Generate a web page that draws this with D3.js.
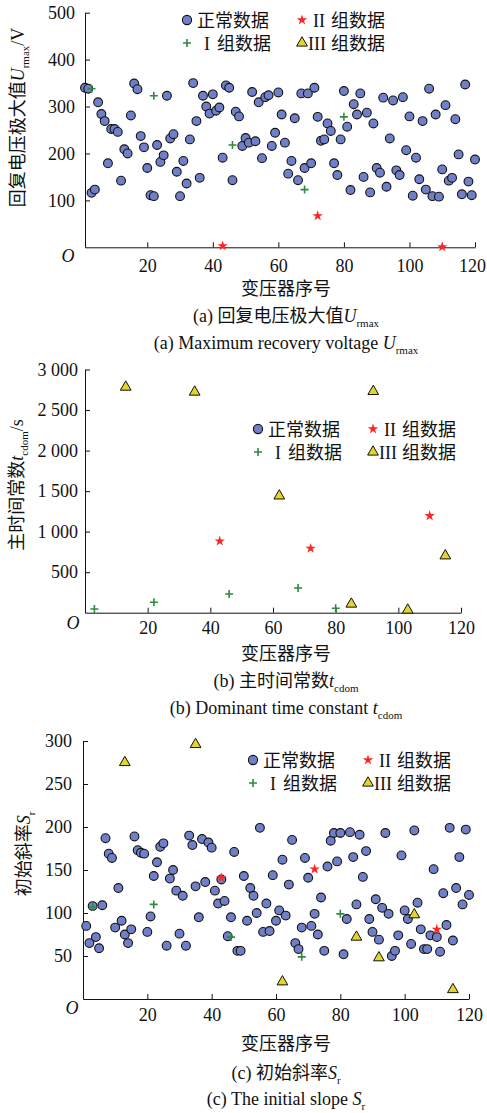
<!DOCTYPE html>
<html>
<head>
<meta charset="utf-8">
<script src="https://cdn.jsdelivr.net/npm/d3@7"></script>
<style>
  body { margin: 0; background: #fff; }
</style>
</head>
<body>
<svg id="chart" width="487" height="1113"></svg>
<script>
// transformer index ticks, shared by the three panels
const xTicks = [20, 40, 60, 80, 100, 120];
const yTicksA = [100, 200, 300, 400, 500];
const yTicksB = [500, 1000, 1500, 2000, 2500, 3000];
const yTicksC = [50, 100, 150, 200, 250, 300];

// normal data, transformer 1..120
const normalA = [340, 338, 116, 123, 309, 284, 269, 179, 252, 252,
                 246, 142, 209, 200, 281, 349, 337, 237, 213, 169,
                 111, 109, 218, 182, 196, 323, 232, 241, 161, 109,
                 184, 136, 230, 350, 269, 148, 323, 300, 285, 326,
                 291, 298, 191, 345, 340, 143, 289, 279, 216, 233,
                 223, 331, 226, 309, 190, 320, 324, 216, 244, 330,
                 283, 223, 157, 184, 275, 143, 328, 169, 328, 179,
                 340, 278, 227, 230, 264, 248, 179, 154, 230, 333,
                 257, 122, 305, 283, 328, 150, 287, 117, 264, 169,
                 159, 319, 129, 232, 313, 164, 154, 320, 207, 279,
                 110, 191, 145, 269, 123, 338, 109, 283, 108, 166,
                 303, 142, 148, 273, 198, 113, 347, 140, 111, 187];
const normalC = [85, 65, 108, 72, 59, 109, 187, 169, 164, 83,
                 129, 91, 75, 65, 81, 189, 173, 170, 169, 78,
                 96, 143, 159, 177, 181, 62, 140, 150, 126, 76,
                 120, 62, 190, 179, 131, 95, 186, 136, 182, 176,
                 126, 111, 139, 114, 73, 95, 171, 56, 56, 143,
                 91, 129, 120, 100, 199, 78, 111, 79, 144, 91,
                 103, 162, 97, 133, 185, 65, 58, 83, 164, 141,
                 85, 99, 75, 118, 56, 154, 184, 193, 160, 193,
                 52, 93, 194, 165, 110, 191, 142, 172, 93, 78,
                 116, 69, 106, 193, 99, 50, 56, 74, 167, 103,
                 93, 64, 196, 112, 81, 58, 58, 74, 151, 72,
                 55, 123, 86, 199, 68, 129, 165, 110, 197, 121];

// fault groups: transformer index and value per panel
const group1Idx = [3, 22, 46, 68, 80];
const group2Idx = [43, 72, 110];
const group3Idx = [13, 35, 62, 85, 92, 103, 115];
const g1A = [338, 323, 218, 123, 278];
const g2A = [3, 67, 1];
const g1B = [46, 128, 230, 304, 54];
const g2B = [883, 793, 1195];
const g3B = [2783, 2722, 1441, 107, 2730, 33, 702];
const g1C = [107, 110, 72, 49, 99];
const g2C = [141, 151, 81];
const g3C = [275, 296, 20, 72, 48, 98, 11];

const cjk = '"Noto Sans CJK SC", "Noto Sans", sans-serif';
const serif = '"Liberation Serif", "DejaVu Serif", serif';
const ink = "#111";

const svg = d3.select("#chart");

// rich text: r = roman serif, i = italic serif, s = subscript, c = chinese
function rich(text, parts) {
    let sub = false;
    parts.forEach(([str, kind]) => {
        const t = text.append("tspan").text(str);
        if (kind === "c") t.attr("font-family", cjk);
        else t.attr("font-family", serif);
        if (kind === "i") t.attr("font-style", "italic");
        if (kind === "s") {
            t.attr("font-size", 11).attr("dy", 5);
            sub = true;
        } else if (sub) {
            t.attr("dy", -5);
            sub = false;
        }
    });
}

const zip = (idx, vals) => idx.map((d, k) => ({ i: d, v: vals[k] }));
const fmtB = d => d >= 1000 ? d3.format(",")(d).replace(",", " ") : d;

const panels = [
    { x0: 85, x1: 475, xDom: [1, 120], yTop: 12.7, yBot: 247.3, yMax: 500, yTicks: yTicksA, fmt: d => d,
      yPad: 10, xPad: 11.5, leg: [187, 20], O: [68, 256], xlab: 288, cap1: 315, cap2: 342, ylab: [24, 117.5],
      normal: normalA, g1: g1A, g2: g2A, g3: null,
      ylabel: [["回复电压极大值", "c"], ["U", "i"], ["rmax", "s"], ["/V", "r"]],
      c1: [["(a) ", "r"], ["回复电压极大值", "c"], ["U", "i"], ["rmax", "s"]],
      c2: [["(a) Maximum recovery voltage ", "r"], ["U", "i"], ["rmax", "s"]] },
    { x0: 85, x1: 461, xDom: [0, 120], yTop: 369.5, yBot: 612.7, yMax: 3000, yTicks: yTicksB, fmt: fmtB,
      yPad: 7, xPad: 8.5, leg: [258, 429], O: [73, 623], xlab: 653, cap1: 680, cap2: 707, ylab: [23, 485],
      normal: null, g1: g1B, g2: g2B, g3: g3B,
      ylabel: [["主时间常数", "c"], ["t", "i"], ["cdom", "s"], ["/s", "r"]],
      c1: [["(b) ", "r"], ["主时间常数", "c"], ["t", "i"], ["cdom", "s"]],
      c2: [["(b) Dominant time constant ", "r"], ["t", "i"], ["cdom", "s"]] },
    { x0: 83, x1: 469, xDom: [0, 120], yTop: 741, yBot: 999, yMax: 300, yTicks: yTicksC, fmt: d => d,
      yPad: 11, xPad: 9.5, leg: [253, 760], O: [72, 1008], xlab: 1043, cap1: 1072, cap2: 1098, ylab: [30, 854],
      normal: normalC, g1: g1C, g2: g2C, g3: g3C,
      ylabel: [["初始斜率", "c"], ["S", "i"], ["r", "s"]],
      c1: [["(c) ", "r"], ["初始斜率", "c"], ["S", "i"], ["r", "s"]],
      c2: [["(c) The initial slope ", "r"], ["S", "i"], ["r", "s"]] }
];

const star = d3.symbol(d3.symbolStar, 34);
const tri = d3.symbol(d3.symbolTriangle, 50);

function drawLegend(g, lx, ly) {
    const col2 = lx + 115, row2 = ly + 23;
    const txt = (x, y, s, fam, anchor) => g.append("text").attr("x", x).attr("y", y + 6.5)
        .attr("font-family", fam).attr("font-size", 18).attr("fill", ink)
        .attr("text-anchor", anchor || "start").text(s);

    g.append("circle").attr("cx", lx).attr("cy", ly).attr("r", 4.6)
        .attr("fill", "#6f80c8").attr("stroke", ink).attr("stroke-width", 1.1);
    txt(lx + 10, ly, "正常数据", cjk);

    g.append("path").attr("d", star()).attr("transform", `translate(${col2},${ly})`).attr("fill", "#ff2525");
    txt(col2 + 23, ly, "II", serif, "end");
    txt(col2 + 29, ly, "组数据", cjk);

    g.append("path").attr("d", "M-4,0H4M0,-4V4").attr("transform", `translate(${lx},${row2})`)
        .attr("stroke", "#2e8b3e").attr("stroke-width", 1.6);
    txt(lx + 20, row2, "I", serif, "middle");
    txt(lx + 30, row2, "组数据", cjk);

    g.append("path").attr("d", tri()).attr("transform", `translate(${col2},${row2})`)
        .attr("fill", "#e3d52b").attr("stroke", ink).attr("stroke-width", 1);
    txt(col2 + 24, row2, "III", serif, "end");
    txt(col2 + 29, row2, "组数据", cjk);
}

panels.forEach(p => {
    const x = d3.scaleLinear().domain(p.xDom).range([p.x0, p.x1]);
    const y = d3.scaleLinear().domain([0, p.yMax]).range([p.yBot, p.yTop]);
    const g = svg.append("g");

    const xa = g.append("g").attr("transform", `translate(0,${p.yBot})`)
        .call(d3.axisBottom(x).tickValues(xTicks).tickSizeInner(-5).tickSizeOuter(0).tickPadding(p.xPad));
    g.append("g").attr("transform", `translate(${p.x0},0)`)
        .call(d3.axisLeft(y).tickValues(p.yTicks).tickFormat(p.fmt).tickSizeInner(-5).tickSizeOuter(0).tickPadding(p.yPad));
    g.selectAll(".tick text").attr("font-family", serif).attr("font-size", 18).attr("fill", ink);
    g.selectAll(".domain, .tick line").attr("stroke", ink);
    // keep the last x label inside the page
    xa.selectAll(".tick text").filter(d => x(d) + 14 > 487).attr("dx", 487 - 14 - p.x1 - 1);

    if (p.normal) {
        g.selectAll("circle.normal")
            .data(p.normal.map((v, k) => ({ i: k + 1, v })))
            .join("circle")
            .attr("class", "normal")
            .attr("cx", d => x(d.i))
            .attr("cy", d => y(d.v))
            .attr("r", 4.4)
            .attr("fill", "#6f80c8")
            .attr("stroke", ink)
            .attr("stroke-width", 1.1);
    }
    if (p.g3) {
        g.selectAll("path.g3").data(zip(group3Idx, p.g3)).join("path")
            .attr("class", "g3")
            .attr("d", tri())
            .attr("transform", d => `translate(${x(d.i)},${y(d.v)})`)
            .attr("fill", "#e3d52b").attr("stroke", ink).attr("stroke-width", 1);
    }
    g.selectAll("path.g2").data(zip(group2Idx, p.g2)).join("path")
        .attr("class", "g2")
        .attr("d", star())
        .attr("transform", d => `translate(${x(d.i)},${y(d.v)})`)
        .attr("fill", "#ff2525");
    g.selectAll("path.g1").data(zip(group1Idx, p.g1)).join("path")
        .attr("class", "g1")
        .attr("d", "M-4,0H4M0,-4V4")
        .attr("transform", d => `translate(${x(d.i)},${y(d.v)})`)
        .attr("stroke", "#2e8b3e").attr("stroke-width", 1.6);

    drawLegend(g, p.leg[0], p.leg[1]);

    // origin mark
    g.append("text").attr("x", p.O[0]).attr("y", p.O[1] + 6)
        .attr("text-anchor", "middle").attr("font-family", serif).attr("font-style", "italic")
        .attr("font-size", 18).attr("fill", ink).text("O");

    // axis titles
    g.append("text").attr("x", 286).attr("y", p.xlab + 6.5)
        .attr("text-anchor", "middle").attr("font-family", cjk).attr("font-size", 18).attr("fill", ink)
        .text("变压器序号");
    const yl = g.append("text")
        .attr("transform", `translate(${p.ylab[0]},${p.ylab[1]}) rotate(-90)`)
        .attr("text-anchor", "middle").attr("font-size", 18).attr("fill", ink);
    rich(yl, p.ylabel);

    // captions
    [[p.c1, p.cap1], [p.c2, p.cap2]].forEach(([parts, cy]) => {
        const t = g.append("text").attr("x", 286).attr("y", cy + 6.5)
            .attr("text-anchor", "middle").attr("font-size", 18).attr("fill", ink);
        rich(t, parts);
    });
});
</script>
</body>
</html>
